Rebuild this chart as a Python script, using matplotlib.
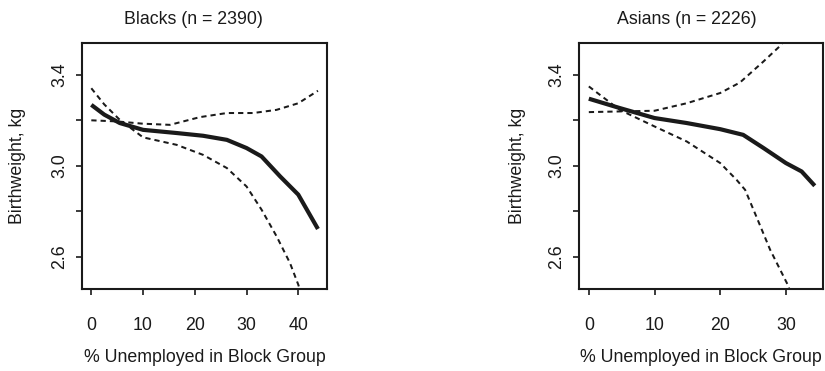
import numpy as np
import matplotlib
matplotlib.use("Agg")
import matplotlib.pyplot as plt

plt.rcParams['font.family'] = ['Liberation Sans', 'DejaVu Sans']

# ---------------- data ----------------
titles = ["Blacks (n = 2390)", "Asians (n = 2226)"]

# Blacks
b_fit_x = [0, 2.5, 5.5, 10, 16.5, 21.6, 26.2, 30, 32.9, 36.5, 40, 43.8]
b_fit_y = [3.268, 3.225, 3.188, 3.158, 3.144, 3.132, 3.114, 3.078, 3.041, 2.953, 2.873, 2.722]
b_lo_x = [0, 2.5, 5.5, 10, 16.5, 21.6, 26.2, 30, 32.9, 35.8, 38.4, 40, 40.5]
b_lo_y = [3.341, 3.27, 3.202, 3.125, 3.092, 3.048, 2.99, 2.909, 2.807, 2.69, 2.572, 2.477, 2.44]
b_hi_x = [0, 5, 10, 15.2, 21, 26.2, 31.3, 35.8, 40, 43.8]
b_hi_y = [3.2, 3.195, 3.185, 3.18, 3.214, 3.232, 3.232, 3.246, 3.275, 3.33]

# Asians
a_fit_x = [0, 4.7, 10, 14.9, 20, 23.5, 26.6, 30, 32.4, 34.4]
a_fit_y = [3.295, 3.254, 3.21, 3.188, 3.161, 3.136, 3.078, 3.012, 2.975, 2.912]
a_hi_x = [0, 4.7, 10, 14.9, 20, 23, 26.6, 29.3, 29.8]
a_hi_y = [3.236, 3.239, 3.242, 3.275, 3.32, 3.366, 3.459, 3.532, 3.56]
a_lo_x = [0, 4.7, 10, 14.9, 20, 22.5, 23.8, 25.5, 27.6, 30.4, 30.7]
a_lo_y = [3.349, 3.246, 3.173, 3.107, 3.012, 2.938, 2.894, 2.777, 2.631, 2.47, 2.44]

x_ticks = [[0, 10, 20, 30, 40], [0, 10, 20, 30]]
x_lims = [(-1.8, 45.55), (-1.45, 35.7)]
y_ticks = [2.6, 2.8, 3.0, 3.2, 3.4]
y_labels = ["2.6", "", "3.0", "", "3.4"]

# ---------------- figure ----------------
W, H = 825, 371
fig = plt.figure(figsize=(W / 100, H / 100), dpi=100)

# axes boxes in pixels: left, right, top, bottom
boxes = [(82, 327, 43, 289), (579.3, 823.3, 43, 289)]
title_x = [193.5, 686.5]
ylabel_x = [18, 517]
fs = 12.8
ink = "#1a1a1a"

panels = [
    (b_fit_x, b_fit_y, b_lo_x, b_lo_y, b_hi_x, b_hi_y),
    (a_fit_x, a_fit_y, a_lo_x, a_lo_y, a_hi_x, a_hi_y),
]

for i, (fx, fy, lx, ly, hx, hy) in enumerate(panels):
    l, r, t, b = boxes[i]
    ax = fig.add_axes([l / W, 1 - b / H, (r - l) / W, (b - t) / H])
    ax.plot(fx, fy, color=ink, lw=3.0, solid_capstyle='butt', solid_joinstyle='round')
    ax.plot(lx, ly, color=ink, lw=1.45, linestyle=(0, (2.6, 2.0)))
    ax.plot(hx, hy, color=ink, lw=1.45, linestyle=(0, (2.6, 2.0)))

    ax.set_xlim(*x_lims[i])
    ax.set_ylim(2.458, 3.54)
    ax.set_xticks(x_ticks[i])
    ax.set_yticks(y_ticks)
    ax.set_yticklabels(y_labels, rotation=90, va='center')
    ax.tick_params(axis='both', direction='out', length=4, width=1.2,
                   labelsize=fs, colors=ink)
    ax.tick_params(axis='x', pad=16)
    ax.tick_params(axis='y', pad=6)
    for s in ax.spines.values():
        s.set_linewidth(1.5)
        s.set_color(ink)

    ax.set_xlabel("% Unemployed in Block Group", fontsize=fs, color=ink)
    ax.set_ylabel("Birthweight, kg", fontsize=fs, color=ink)
    ax.xaxis.set_label_coords(0.5, (b - 358) / (b - t))
    ax.xaxis.label.set_va('center')
    ax.yaxis.set_label_coords((ylabel_x[i] - l) / (r - l), 0.5)
    ax.yaxis.label.set_va('center')

    fig.text(title_x[i] / W, 1 - 20 / H, titles[i], ha='center', va='center',
             fontsize=fs, color=ink)

fig.savefig("out.png", dpi=100)
